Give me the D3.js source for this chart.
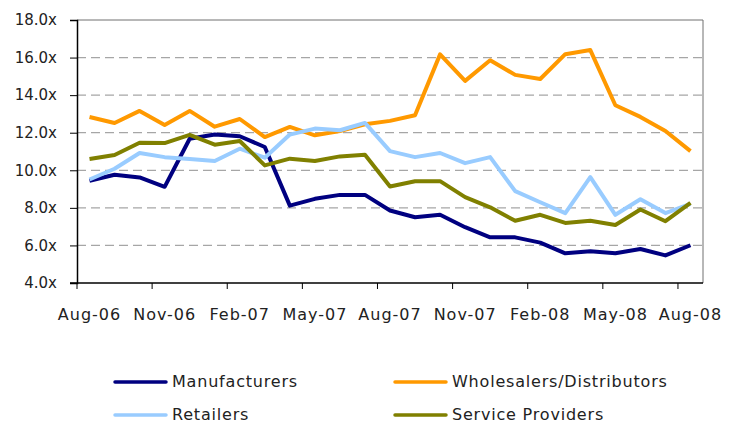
<!DOCTYPE html>
<head>
  <meta charset="UTF-8">
<script src="https://d3js.org/d3.v7.min.js"></script>
<style>
  body { margin: 0; background: #fff; }
  text { font-family: "DejaVu Sans", sans-serif; fill: #222; }
</style>
</head>
<body>
<svg></svg>
<script>

var width = 737, height = 424;

// months Aug-06 .. Aug-08
var months = ["Aug-06","Sep-06","Oct-06","Nov-06","Dec-06","Jan-07","Feb-07","Mar-07","Apr-07","May-07","Jun-07","Jul-07",
  "Aug-07","Sep-07","Oct-07","Nov-07","Dec-07","Jan-08","Feb-08","Mar-08","Apr-08","May-08","Jun-08","Jul-08","Aug-08"];

var tickLabels = ["Aug-06","Nov-06","Feb-07","May-07","Aug-07","Nov-07","Feb-08","May-08","Aug-08"];

var manufacturers = [9.44,9.76,9.62,9.12,11.68,11.90,11.81,11.24,8.12,8.48,8.69,8.69,7.86,7.50,7.63,6.97,6.43,6.43,6.15,5.58,5.69,5.58,5.81,5.47,6.01];
var wholesalers   = [12.84,12.52,13.16,12.41,13.16,12.32,12.73,11.77,12.31,11.86,12.09,12.45,12.63,12.93,16.17,14.76,15.86,15.08,14.86,16.18,16.40,13.46,12.84,12.09,11.02];
var retailers     = [9.51,10.08,10.92,10.70,10.60,10.49,11.15,10.67,11.90,12.22,12.13,12.52,11.02,10.70,10.92,10.38,10.70,8.89,8.30,7.72,9.64,7.63,8.46,7.72,8.21];
var services      = [10.60,10.81,11.47,11.45,11.88,11.36,11.56,10.26,10.62,10.49,10.74,10.83,9.14,9.42,9.42,8.57,8.03,7.31,7.63,7.20,7.31,7.09,7.91,7.29,8.27];

var seriesNames  = ["Manufacturers","Wholesalers/Distributors","Retailers","Service Providers"];
var seriesColors = ["#000080","#ff9900","#99ccff","#808000"];
var seriesData   = [manufacturers, wholesalers, retailers, services];

var yTicks = [4,6,8,10,12,14,16,18];

var margin = {left: 77, right: 34, top: 20, bottom: 141};
var x0 = margin.left, x1 = width - margin.right;
var y0 = height - margin.bottom, y1 = margin.top;

var svg = d3.select("svg").attr("width", width).attr("height", height);

var x = d3.scaleBand().domain(months).range([x0, x1]);
var y = d3.scaleLinear().domain([4, 18]).range([y0, y1]);

// gridlines
svg.append("g")
  .selectAll("line")
  .data(yTicks.filter(function(d){ return d > 4 && d < 18; }))
  .enter().append("line")
  .attr("x1", x0).attr("x2", x1)
  .attr("y1", function(d){ return y(d); })
  .attr("y2", function(d){ return y(d); })
  .attr("stroke", "#a6a6a6")
  .attr("stroke-width", 1.3)
  .attr("stroke-dasharray", "9,5");

// plot border (top / right)
svg.append("path")
  .attr("d", "M" + x0 + "," + y1 + "H" + x1 + "V" + y0)
  .attr("fill", "none")
  .attr("stroke", "#707070")
  .attr("stroke-width", 1);

// y axis
var yAxis = d3.axisLeft(y).tickValues(yTicks).tickSize(7).tickPadding(13)
  .tickFormat(function(d){ return d.toFixed(1) + "x"; });
var gy = svg.append("g").attr("transform", "translate(" + x0 + ",0)").call(yAxis);
gy.select(".domain").attr("stroke", "#000").attr("stroke-width", 1.5);
gy.selectAll(".tick line").attr("stroke", "#000");
gy.selectAll("text").style("font-size", "15px").attr("fill", "#222");

// x axis: ticks between every 3rd category
var xAxisG = svg.append("g").attr("transform", "translate(0," + y0 + ")");
xAxisG.append("line").attr("x1", x0 - 7).attr("x2", x1).attr("stroke", "#000").attr("stroke-width", 1.5);
xAxisG.selectAll(".xt")
  .data(months.filter(function(d, i){ return i % 3 === 0; }))
  .enter().append("line")
  .attr("x1", function(d){ return x(d); })
  .attr("x2", function(d){ return x(d); })
  .attr("y1", 0).attr("y2", 6)
  .attr("stroke", "#000");
xAxisG.selectAll(".xl")
  .data(tickLabels)
  .enter().append("text")
  .attr("x", function(d){ return x(d) + x.bandwidth() / 2; })
  .attr("y", 37)
  .attr("text-anchor", "middle")
  .style("font-size", "16px")
  .style("letter-spacing", "1px")
  .text(function(d){ return d; });

// lines
var line = d3.line()
  .x(function(d, i){ return x(months[i]) + x.bandwidth() / 2; })
  .y(function(d){ return y(d); });

seriesData.forEach(function(s, k) {
  svg.append("path")
    .datum(s)
    .attr("d", line)
    .attr("fill", "none")
    .attr("stroke", seriesColors[k])
    .attr("stroke-width", 4)
    .attr("stroke-linejoin", "round");
});

// legend
var legendPos = [[115, 382], [395, 382], [115, 415], [395, 415]];
var leyenda = svg.append("g").attr("class", "leyenda");
seriesNames.forEach(function(n, k) {
  var g = leyenda.append("g").attr("transform", "translate(" + legendPos[k][0] + "," + legendPos[k][1] + ")");
  g.append("line").attr("x1", 0).attr("x2", 51).attr("stroke", seriesColors[k])
    .attr("stroke-width", 3.5).attr("stroke-linecap", "round");
  g.append("text").attr("x", 57).attr("y", 5)
    .style("font-size", "16px").style("letter-spacing", "0.8px").text(n);
});

</script>
</body>
